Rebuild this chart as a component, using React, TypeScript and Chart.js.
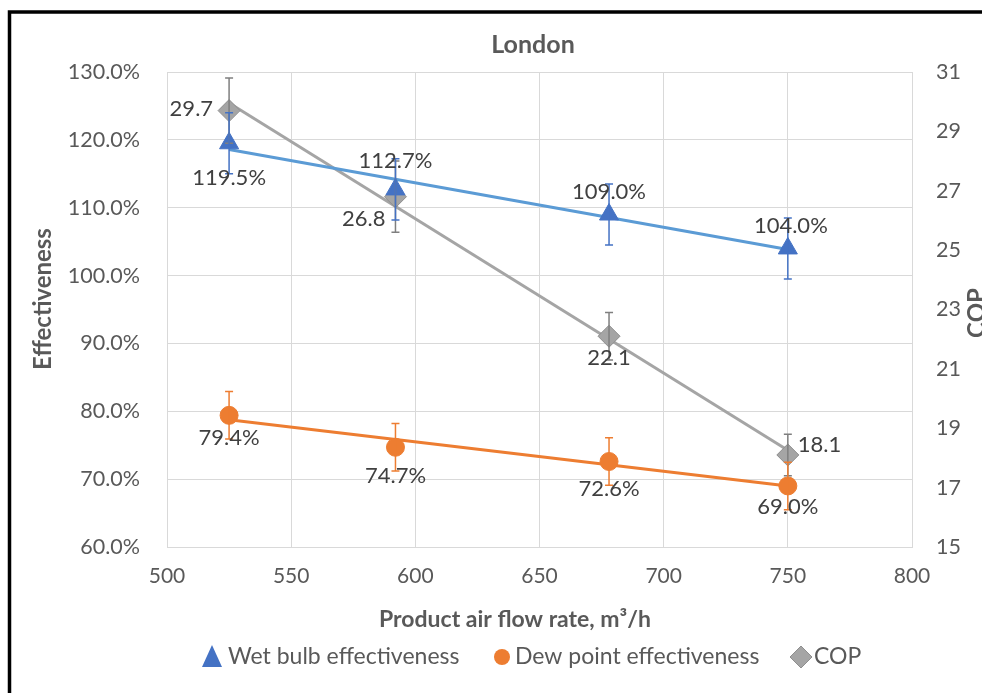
import React, { useEffect, useRef } from "react";
import { Chart, registerables } from "chart.js";

Chart.register(...registerables);

// ---- Data ----
const flowRates = [525, 592, 678, 750];
const wetBulb = [119.5, 112.7, 109.0, 104.0];
const dewPoint = [79.4, 74.7, 72.6, 69.0];
const copValues = [29.7, 26.8, 22.1, 18.1];
const wetBulbErr = [4.5, 4.5, 4.5, 4.5];
const dewPointErr = [3.5, 3.5, 3.5, 3.5];
const copErr = [1.1, 1.2, 0.8, 0.7];

const chartTitle = "London";
const xTitle = "Product air flow rate, m\u00b3/h";
const yTitle = "Effectiveness";
const y1Title = "COP";
const seriesNames = ["Wet bulb effectiveness", "Dew point effectiveness", "COP"];

const FONT = "Lato, 'Open Sans', sans-serif";
const TEXT = "#595959";
const LABEL = "#404040";
const GRID = "#d9d9d9";
const BLUE = "#4472C4";
const BLUE_LINE = "#5B9BD5";
const ORANGE = "#ED7D31";
const GRAY = "#A5A5A5";
const GRAY_ERR = "#7f7f7f";

function trend(xs: number[], ys: number[]) {
  const n = xs.length;
  const mx = xs.reduce((a, b) => a + b, 0) / n;
  const my = ys.reduce((a, b) => a + b, 0) / n;
  let sxy = 0, sxx = 0;
  for (let i = 0; i < n; i++) {
    sxy += (xs[i] - mx) * (ys[i] - my);
    sxx += (xs[i] - mx) * (xs[i] - mx);
  }
  const b = sxy / sxx;
  const a = my - b * mx;
  const x0 = xs[0], x1 = xs[n - 1];
  return [{ x: x0, y: a + b * x0 }, { x: x1, y: a + b * x1 }];
}

const pts = (ys: number[]) => flowRates.map((x, i) => ({ x, y: ys[i] }));

// label placement: [dx, dy, align]
const wetLabelPos: [number, number, CanvasTextAlign][] = [
  [0, 35, "center"], [0, -28, "center"], [0, -23, "center"], [3, -23, "center"],
];
const dewLabelPos: [number, number, CanvasTextAlign][] = [
  [0, 23, "center"], [0, 29, "center"], [0, 27, "center"], [0, 21, "center"],
];
const copLabelPos: [number, number, CanvasTextAlign][] = [
  [-16, -2, "right"], [-10, 22, "right"], [0, 22, "center"], [10, -10, "left"],
];

const overlay = {
  id: "overlay",
  beforeDraw(chart: any) {
    const ctx = chart.ctx;
    ctx.save();
    ctx.fillStyle = "#ffffff";
    ctx.fillRect(0, 0, chart.width, chart.height);
    ctx.restore();
  },
  afterDatasetsDraw(chart: any) {
    const ctx = chart.ctx;
    const xs = chart.scales.x;
    const ys = chart.scales.y;
    const y1 = chart.scales.y1;
    const err = (vals: number[], errs: number[], scale: any, color: string) => {
      ctx.save();
      ctx.strokeStyle = color;
      ctx.lineWidth = 1.5;
      vals.forEach((v, i) => {
        const px = xs.getPixelForValue(flowRates[i]);
        const t = scale.getPixelForValue(v + errs[i]);
        const b = scale.getPixelForValue(v - errs[i]);
        ctx.beginPath();
        ctx.moveTo(px, t); ctx.lineTo(px, b);
        ctx.moveTo(px - 4, t); ctx.lineTo(px + 4, t);
        ctx.moveTo(px - 4, b); ctx.lineTo(px + 4, b);
        ctx.stroke();
      });
      ctx.restore();
    };
    err(copValues, copErr, y1, GRAY_ERR);
    err(dewPoint, dewPointErr, ys, ORANGE);
    err(wetBulb, wetBulbErr, ys, BLUE);

    const labels = (vals: number[], scale: any, fmt: (v: number) => string, pos: [number, number, CanvasTextAlign][]) => {
      ctx.save();
      ctx.font = `22px ${FONT}`;
      ctx.fillStyle = LABEL;
      ctx.textBaseline = "middle";
      vals.forEach((v, i) => {
        const px = xs.getPixelForValue(flowRates[i]);
        const py = scale.getPixelForValue(v);
        ctx.textAlign = pos[i][2];
        ctx.fillText(fmt(v), px + pos[i][0], py + pos[i][1]);
      });
      ctx.restore();
    };
    labels(wetBulb, ys, (v) => v.toFixed(1) + "%", wetLabelPos);
    labels(dewPoint, ys, (v) => v.toFixed(1) + "%", dewLabelPos);
    labels(copValues, y1, (v) => v.toFixed(1), copLabelPos);
  },
  afterDraw(chart: any) {
    const ctx = chart.ctx;
    ctx.save();
    ctx.fillStyle = TEXT;
    ctx.textBaseline = "middle";
    ctx.textAlign = "center";
    ctx.font = `bold 25px ${FONT}`;
    ctx.fillText(chartTitle, 533, 45);
    ctx.font = `bold 23px ${FONT}`;
    ctx.fillText(xTitle, 515, 620);

    ctx.save();
    ctx.translate(43, 299);
    ctx.rotate(-Math.PI / 2);
    ctx.font = `bold 24px ${FONT}`;
    ctx.fillText(yTitle, 0, 0);
    ctx.restore();
    ctx.save();
    ctx.translate(977, 313);
    ctx.rotate(-Math.PI / 2);
    ctx.font = `bold 24px ${FONT}`;
    ctx.fillText(y1Title, 0, 0);
    ctx.restore();

    // legend
    const ly = 657;
    ctx.fillStyle = BLUE;
    ctx.beginPath();
    ctx.moveTo(212, ly - 12); ctx.lineTo(222, ly + 10); ctx.lineTo(202, ly + 10); ctx.closePath();
    ctx.fill();
    ctx.fillStyle = ORANGE;
    ctx.beginPath();
    ctx.arc(502, ly, 8, 0, Math.PI * 2);
    ctx.fill();
    ctx.fillStyle = GRAY;
    ctx.strokeStyle = "#8f8f8f";
    ctx.lineWidth = 1;
    ctx.beginPath();
    ctx.moveTo(801, ly - 11); ctx.lineTo(812, ly); ctx.lineTo(801, ly + 11); ctx.lineTo(790, ly); ctx.closePath();
    ctx.fill(); ctx.stroke();
    ctx.fillStyle = TEXT;
    ctx.textAlign = "left";
    ctx.font = `23px ${FONT}`;
    ctx.fillText(seriesNames[0], 228, ly);
    ctx.fillText(seriesNames[1], 515, ly);
    ctx.fillText(seriesNames[2], 814, ly);

    // frame
    ctx.strokeStyle = "#000000";
    ctx.lineWidth = 3.5;
    ctx.beginPath();
    ctx.moveTo(9.5, chart.height + 2);
    ctx.lineTo(9.5, 12);
    ctx.lineTo(chart.width + 2, 12);
    ctx.stroke();
    ctx.restore();
  },
};

export default function App() {
  const ref = useRef<HTMLCanvasElement>(null);
  useEffect(() => {
    if (!ref.current) return;
    const chart = new Chart(ref.current, {
      type: "scatter",
      data: {
        datasets: [
          {
            label: seriesNames[0], data: pts(wetBulb), yAxisID: "y",
            pointStyle: "triangle", pointRadius: 11, backgroundColor: BLUE, borderColor: BLUE,
            showLine: false, order: 0,
          },
          {
            label: seriesNames[1], data: pts(dewPoint), yAxisID: "y",
            pointStyle: "circle", pointRadius: 9, backgroundColor: ORANGE, borderColor: ORANGE,
            showLine: false, order: 0,
          },
          {
            label: seriesNames[2], data: pts(copValues), yAxisID: "y1",
            pointStyle: "rectRot", pointRadius: 11, backgroundColor: GRAY, borderColor: "#8f8f8f",
            borderWidth: 1, showLine: false, order: 0,
          },
          {
            label: "wet trend", data: trend(flowRates, wetBulb), yAxisID: "y",
            showLine: true, pointRadius: 0, borderColor: BLUE_LINE, borderWidth: 3, order: 5,
          },
          {
            label: "dew trend", data: trend(flowRates, dewPoint), yAxisID: "y",
            showLine: true, pointRadius: 0, borderColor: ORANGE, borderWidth: 3, order: 5,
          },
          {
            label: "cop trend", data: trend(flowRates, copValues), yAxisID: "y1",
            showLine: true, pointRadius: 0, borderColor: GRAY, borderWidth: 3, order: 5,
          },
        ],
      },
      options: {
        responsive: false,
        animation: false,
        layout: { padding: { top: 72, bottom: 106, left: 0, right: 0 } },
        plugins: { legend: { display: false }, title: { display: false }, tooltip: { enabled: false } },
        scales: {
          x: {
            type: "linear", min: 500, max: 800,
            ticks: { stepSize: 50, color: TEXT, font: { family: FONT, size: 21 }, padding: 17 },
            grid: { color: GRID, drawTicks: false },
            border: { color: GRID },
            afterFit: (s: any) => { s.height = 40; },
          },
          y: {
            position: "left", min: 60, max: 130,
            ticks: { stepSize: 10, color: TEXT, font: { family: FONT, size: 21.5 }, padding: 27,
              callback: (v: any) => Number(v).toFixed(1) + "%" },
            grid: { color: GRID, drawTicks: false },
            border: { color: GRID },
            afterFit: (s: any) => { s.width = 167; },
          },
          y1: {
            position: "right", min: 15, max: 31,
            ticks: { stepSize: 2, color: TEXT, font: { family: FONT, size: 21.5 }, padding: 24 },
            grid: { display: false, drawTicks: false },
            border: { display: false },
            afterFit: (s: any) => { s.width = 70; },
          },
        },
      },
      plugins: [overlay],
    } as any);
    return () => chart.destroy();
  }, []);
  return (
    <canvas
      ref={ref}
      width={982}
      height={693}
      style={{ position: "fixed", left: 0, top: 0, width: 982, height: 693, display: "block" }}
    />
  );
}
